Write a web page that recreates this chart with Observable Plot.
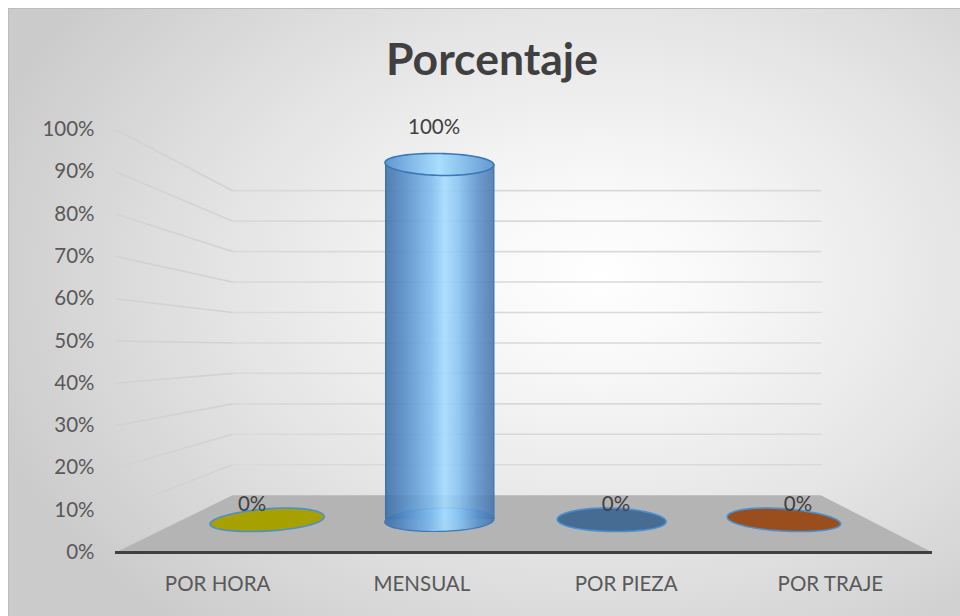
<!DOCTYPE html>
<html>
<head>
<meta charset="utf-8">
<script src="https://cdn.jsdelivr.net/npm/d3@7"></script>
<script src="https://cdn.jsdelivr.net/npm/@observablehq/plot@0.6"></script>
<style>
  html, body { margin: 0; padding: 0; background: #ffffff; width: 960px; height: 616px; overflow: hidden; }
  #frame {
    position: absolute; left: 8px; top: 8px; width: 952px; height: 608px;
    background: radial-gradient(ellipse 68% 76% at 62% 44%, #ffffff 0%, #f7f7f7 22%, #e4e4e4 58%, #cbcbcb 100%);
    box-shadow: inset 1px 1px 0 #bcbcbc;
  }
  #title {
    position: absolute; left: 24px; top: 35.5px; width: 936px; text-align: center;
    font-family: Lato, "Open Sans", sans-serif; font-weight: 700; font-size: 44.5px; line-height: 1;
    color: #404040;
  }
  #chart { position: absolute; left: 0; top: 92px; }
</style>
</head>
<body>
<div id="frame"></div>
<div id="title">Porcentaje</div>
<div id="chart"></div>
<script>
// ---- data ----
const categories = ["POR HORA", "MENSUAL", "POR PIEZA", "POR TRAJE"];
const values = [0, 1, 0, 0];
const valueLabels = ["0%", "100%", "0%", "0%"];
const seriesColors = ["#a6a000", "#5b9bd5", "#466c93", "#9a4e1e"];
const yTicks = [0, 0.1, 0.2, 0.3, 0.4, 0.5, 0.6, 0.7, 0.8, 0.9, 1];
const yTickLabels = ["0%", "10%", "20%", "30%", "40%", "50%", "60%", "70%", "80%", "90%", "100%"];

// ---- simple 3D projection in data units (u: category axis, v: value, d: depth 0=front..1=back) ----
const VP = {u: 2.0465, v: 0.4835};   // vanishing point in data units
const SHRINK = 0.28;                  // back wall is 72% of the front plane
const DC = 0.5714;                    // depth of the cylinders
const DL = 0.39;                      // depth of data labels
const RX = 0.315, RD = 0.205;         // cylinder radius (u units, depth units)
const nCat = categories.length;

function proj(u, v, d) {
  const s = 1 - SHRINK * d;
  return {x: VP.u + s * (u - VP.u), y: VP.v + s * (v - VP.v)};
}
function ellipse(i, v, key, rd = RD) {
  const pts = [];
  const n = 90;
  for (let k = 0; k < n; k++) {
    const t = 2 * Math.PI * k / n;
    pts.push({...proj(i + 0.5 + RX * Math.cos(t), v, DC + rd * Math.sin(t)), key});
  }
  return pts;
}

// gridlines: left wall and back wall
const sideGrid = [], backGrid = [];
yTicks.forEach((t, k) => {
  if (t === 0) return;
  sideGrid.push({...proj(0, t, 0), k});
  sideGrid.push({...proj(0, t, 1), k});
  backGrid.push({...proj(0, t, 1), k});
  backGrid.push({...proj(nCat, t, 1), k});
});

// floor
const floor = [proj(0, 0, 0), proj(nCat, 0, 0), proj(nCat, 0, 1), proj(0, 0, 1)];

const marks = [];
marks.push(Plot.line(floor, {x: "x", y: "y", curve: "linear-closed", fill: "#b4b4b4", stroke: "none"}));
marks.push(Plot.line(sideGrid, {x: "x", y: "y", z: "k", stroke: "#d2d2d2", strokeWidth: 1.6}));
marks.push(Plot.line(backGrid, {x: "x", y: "y", z: "k", stroke: "#d9d9d9", strokeWidth: 1.6}));
marks.push(Plot.ruleY([0], {x1: 0, x2: nCat, stroke: "#404040", strokeWidth: 3}));

categories.forEach((c, i) => {
  const v = values[i];
  if (v === 0) {
    marks.push(Plot.line(ellipse(i, 0, c), {x: "x", y: "y", curve: "linear-closed",
      fill: seriesColors[i], stroke: "#4a8fd0", strokeWidth: 1.6}));
  } else {
    const b0 = proj(i + 0.5 - RX, 0, DC), b1 = proj(i + 0.5 + RX, v, DC);
    marks.push(Plot.line(ellipse(i, 0, c), {x: "x", y: "y", curve: "linear-closed",
      fill: "url(#cylGrad)", fillOpacity: 0.9, stroke: "#3b78b5", strokeWidth: 1.2}));
    marks.push(Plot.rect([{x1: b0.x, x2: b1.x, y1: b0.y, y2: b1.y}],
      {x1: "x1", x2: "x2", y1: "y1", y2: "y2", fill: "url(#cylGrad)", fillOpacity: 0.88, inset: 0}));
    marks.push(Plot.ruleX([b0.x, b1.x], {y1: b0.y, y2: b1.y, stroke: "#3b74b0", strokeWidth: 1.4}));
    marks.push(Plot.line(ellipse(i, v, c, RD * 0.88), {x: "x", y: "y", curve: "linear-closed",
      fill: "url(#topGrad)", stroke: "#3b78b5", strokeWidth: 1.6}));
  }
});

// data labels
const labelData = categories.map((c, i) => ({...proj(i + 0.5, values[i], DL), t: valueLabels[i]}));
marks.push(Plot.text(labelData, {x: "x", y: "y", text: "t", dy: -26, fontSize: 20.5, fill: "#404040"}));

// y axis labels (front plane)
marks.push(Plot.text(yTicks, {x: 0, y: d => d, text: (d, i) => yTickLabels[i], textAnchor: "end",
  dx: -21, fontSize: 20.5, fill: "#595959"}));

// category labels
marks.push(Plot.text(categories, {x: (d, i) => i + 0.5, y: 0, text: d => d, dy: 32, fontSize: 20.5, fill: "#595959"}));

const chart = Plot.plot({
  width: 960,
  height: 524,
  margin: 0,
  style: {background: "transparent", fontFamily: "Lato, 'Open Sans', sans-serif", overflow: "visible"},
  x: {domain: [0, nCat], range: [115, 932], axis: null},
  y: {domain: [0, 1], range: [460, 37], axis: null},
  marks
});

const defs = d3.select(chart).insert("defs", ":first-child");
const g1 = defs.append("linearGradient").attr("id", "cylGrad").attr("x1", "0").attr("x2", "1").attr("y1", "0").attr("y2", "0");
[[0, "#3d6ea6"], [0.15, "#4f86c2"], [0.42, "#7cbaee"], [0.55, "#a3dbff"], [0.68, "#86c3f2"], [0.86, "#5a90c8"], [1, "#4676ad"]]
  .forEach(([o, c]) => g1.append("stop").attr("offset", o).attr("stop-color", c));
const g2 = defs.append("linearGradient").attr("id", "topGrad").attr("x1", "0").attr("x2", "1").attr("y1", "0").attr("y2", "0");
[[0, "#5f98d2"], [0.5, "#a9deff"], [1, "#639bd2"]]
  .forEach(([o, c]) => g2.append("stop").attr("offset", o).attr("stop-color", c));

document.getElementById("chart").appendChild(chart);
</script>
</body>
</html>
